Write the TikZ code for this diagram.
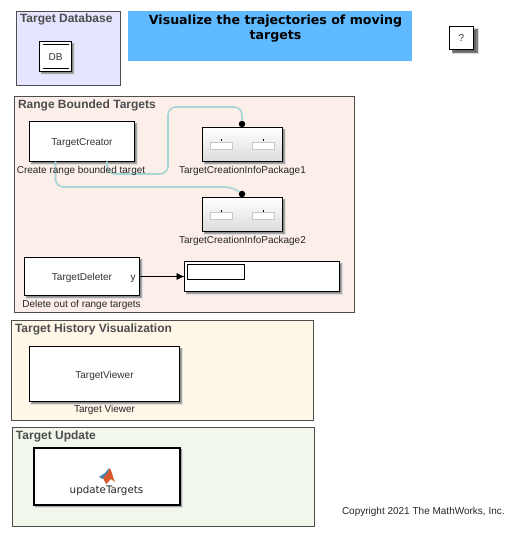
\documentclass[tikz,border=0pt]{standalone}
\usepackage{fontspec}
\setmainfont{Liberation Sans}
\newfontfamily\dejavufont{DejaVu Sans}
\usetikzlibrary{arrows.meta,positioning}
\definecolor{areaBorder}{HTML}{4D4D4D}
\definecolor{areaBlue}{HTML}{E5E5FF}
\definecolor{areaRed}{HTML}{FCEFEA}
\definecolor{areaCream}{HTML}{FFF7E8}
\definecolor{areaGreen}{HTML}{F1F7EA}
\definecolor{titleBlue}{HTML}{60BAFF}
\definecolor{connTeal}{HTML}{A6D5D6}
\definecolor{logoBlue}{HTML}{3E86B8}
\definecolor{logoOrange}{HTML}{D9592A}
\begin{document}
\begin{tikzpicture}[
  x=1pt,y=-1pt,
  node distance=3pt,
  outer sep=0pt,
  area/.style={draw=areaBorder,line width=0.8pt,anchor=north west,inner sep=0pt},
  areatitle/.style={anchor=west,inner sep=0pt,font=\fontsize{12}{12}\selectfont\bfseries,text=areaBorder},
  softshadow/.style={
    preaction={draw=black!12,line width=2.5pt,fill=black!20,transform canvas={xshift=2.5pt,yshift=-2.5pt}},
    preaction={draw=black!35,line width=1pt,fill=black!45,transform canvas={xshift=2pt,yshift=-2pt}}},
  heavyshadow/.style={
    preaction={draw=black!15,line width=3pt,fill=black!25,transform canvas={xshift=4pt,yshift=-3.5pt}},
    preaction={draw=black!50,line width=1.5pt,fill=black!60,transform canvas={xshift=3.5pt,yshift=-3pt}}},
  block/.style={draw,line width=0.9pt,fill=white,anchor=north west,inner sep=0pt,text height=8pt,text depth=0pt,font=\fontsize{10}{10}\selectfont,text=black!80},
  package/.style={block,softshadow,top color=white,middle color=white,bottom color=black!14},
  caption/.style={inner sep=0pt,font=\fontsize{10}{10}\selectfont,text=black!85},
  portbox/.style={draw=black!22,fill=white,line width=0.6pt,minimum width=22pt,minimum height=7.5pt,inner sep=0pt},
  dot/.style={circle,fill=black,inner sep=0pt,minimum size=6.5pt},
  signal/.style={connTeal,line width=1.6pt,rounded corners=8pt},
  arrow/.style={-{Latex[length=8pt,width=7pt]},line width=0.7pt}]
  \useasboundingbox (0,0) rectangle (516,537);
  % areas
  \node[area,fill=areaBlue,minimum width=104pt,minimum height=74pt] (databasearea) at (16.5,11.5) {};
  \node[area,fill=areaRed,minimum width=340pt,minimum height=216pt] (rangearea) at (14.5,96.5) {};
  \node[area,fill=areaCream,minimum width=302pt,minimum height=100pt] (historyarea) at (11.5,320.5) {};
  \node[area,fill=areaGreen,minimum width=302pt,minimum height=99pt] (updatearea) at (12.5,427.5) {};
  \node[areatitle] (databasetitle) at (20,19.5) {Target Database};
  \node[areatitle] (rangetitle) at (18,105) {Range Bounded Targets};
  \node[areatitle] (historytitle) at (15,329) {Target History Visualization};
  \node[areatitle] (updatetitle) at (16,436) {Target Update};
  % header
  \node[anchor=north west,fill=titleBlue,minimum width=284pt,minimum height=50pt,inner sep=0pt] (titlebox) at (128,11) {};
  \node[align=center,inner sep=0pt,font=\dejavufont\fontsize{12.6}{15.5}\selectfont\bfseries] (titletext) at (275.5,28.5) {Visualize the trajectories of moving\\targets};
  \node[block,heavyshadow,minimum width=24pt,minimum height=23pt] (help) at (449.5,26.5) {?};
  \node[block,softshadow,minimum width=32pt,minimum height=30pt] (db) at (39.5,41.5) {DB};
  \draw (db.north west)+(3,3) coordinate (dbtopl) -- ++(29,3) coordinate (dbtopr);
  \draw (db.south west)+(3,-3) coordinate (dbbotl) -- ++(29,-3) coordinate (dbbotr);
  % blocks
  \node[block,softshadow,minimum width=105pt,minimum height=40pt] (creator) at (29.5,121.5) {TargetCreator};
  \node[package,minimum width=80pt,minimum height=34pt] (package1) at (202.5,127.5) {};
  \node[package,minimum width=80pt,minimum height=34pt] (package2) at (202.5,197.5) {};
  \foreach \pkg in {package1,package2}{
    \node[portbox,below left=14.5pt and 8pt of \pkg.north east] (\pkg portb) {};
    \node[portbox,below right=14.5pt and 8pt of \pkg.north west] (\pkg porta) {};
    \draw[line width=0.6pt] (\pkg porta.north)+(0,-2.5) coordinate (\pkg ticka) -- ++(0,-0.5);
    \draw[line width=0.6pt] (\pkg portb.north)+(0,-2.5) coordinate (\pkg tickb) -- ++(0,-0.5);
  }
  \node[block,softshadow,minimum width=115pt,minimum height=38pt] (deleter) at (24.5,257.5) {TargetDeleter};
  \node[inner sep=0pt,left=4pt of deleter.east,text height=7.5pt,text depth=0pt,font=\fontsize{10}{10}\selectfont,text=black!85] (deletery) {y};
  \node[block,softshadow,minimum width=155pt,minimum height=30pt] (display) at (184.5,261.5) {};
  \node[draw,fill=white,anchor=north west,line width=0.7pt,minimum width=57pt,minimum height=15pt,inner sep=0pt] (displaybar) at (187.5,264.5) {};
  \node[block,softshadow,minimum width=150pt,minimum height=55pt] (viewer) at (29.5,346.5) {TargetViewer};
  \node[block,softshadow,line width=2pt,minimum width=146pt,minimum height=57pt] (update) at (33.5,447.5) {};
  % logo
  \fill[logoBlue] (99,477) -- (105,473) -- (109,468) -- (108,477) -- (103,479) -- cycle;
  \fill[logoOrange] (110,468) .. controls (112,472) and (113,478) .. (115,482) -- (111,479) -- (106,484) .. controls (105,481) and (103,479) .. (103,477.5) .. controls (106,476) and (108,472) .. (110,468) -- cycle;
  \node[inner sep=0pt,font=\dejavufont\fontsize{10.3}{10.3}\selectfont,text=black!85] (updatelabel) at (106.5,491) {updateTargets};
  % connectors
  \node[dot] (package1in) at (242,124) {};
  \node[dot] (package2in) at (242,194) {};
  \coordinate (creatorouta) at (107,161.5);
  \coordinate (creatoroutb) at (55.5,161.5);
  \draw[signal] (creatorouta) -- (107,174) -- (168,174) -- (168,107) -- (242,107) -- (package1in);
  \draw[signal] (creatoroutb) -- (55.5,187) -- (233,187) -- (package2in);
  \draw[arrow] (deleter.east) -- (display.west);
  % captions
  \node[caption,below=4.5pt of creator,xshift=-1pt] (creatorcap) {Create range bounded target};
  \node[caption,below=4.5pt of package1] (package1cap) {TargetCreationInfoPackage1};
  \node[caption,below=4.5pt of package2] (package2cap) {TargetCreationInfoPackage2};
  \node[caption,below=4.5pt of deleter,xshift=-0.5pt] (deletercap) {Delete out of range targets};
  \node[caption,below=3.5pt of viewer] (viewercap) {Target Viewer};
  \node[caption,anchor=west] (copyright) at (342,511.5) {Copyright 2021 The MathWorks, Inc.};
\end{tikzpicture}
\end{document}
